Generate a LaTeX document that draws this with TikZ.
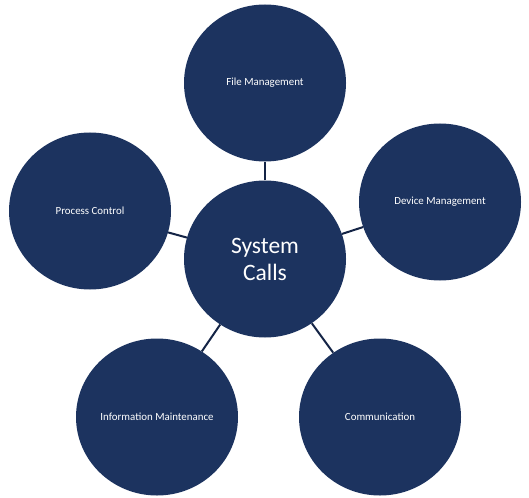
\documentclass[tikz,border=0pt]{standalone}
\usepackage{fontspec}
\setmainfont{Carlito}
\usetikzlibrary{shapes.geometric}
\definecolor{navy}{RGB}{28,51,95}
\definecolor{linknavy}{RGB}{20,36,70}

\begin{document}
\begin{tikzpicture}[
        x=1pt, y=-1pt,
        topic/.style={ellipse, fill=navy, text=white, minimum width=162pt, minimum height=157pt, inner sep=0pt, align=center, font=\fontsize{10.9}{13}\selectfont},
        hub/.style={topic, font=\fontsize{23.5}{27}\selectfont},
        link/.style={draw=linknavy, line width=2pt}
    ]
    \useasboundingbox (0,0) rectangle (529,497);

    % Circles
    \node[hub] (calls) at (265,259) {System\\Calls};
    \node[topic] (file) at (265,83) {File Management};
    \node[topic] (device) at (440,202) {Device Management};
    \node[topic] (process) at (90,211) {Process Control};
    \node[topic] (info) at (157,417) {Information Maintenance};
    \node[topic] (comm) at (380,417) {Communication};

    % Links
    \draw[link] (calls) -- (file);
    \draw[link] (calls) -- (device);
    \draw[link] (calls) -- (process);
    \draw[link] (calls) -- (info);
    \draw[link] (calls) -- (comm);

\end{tikzpicture}
\end{document}
